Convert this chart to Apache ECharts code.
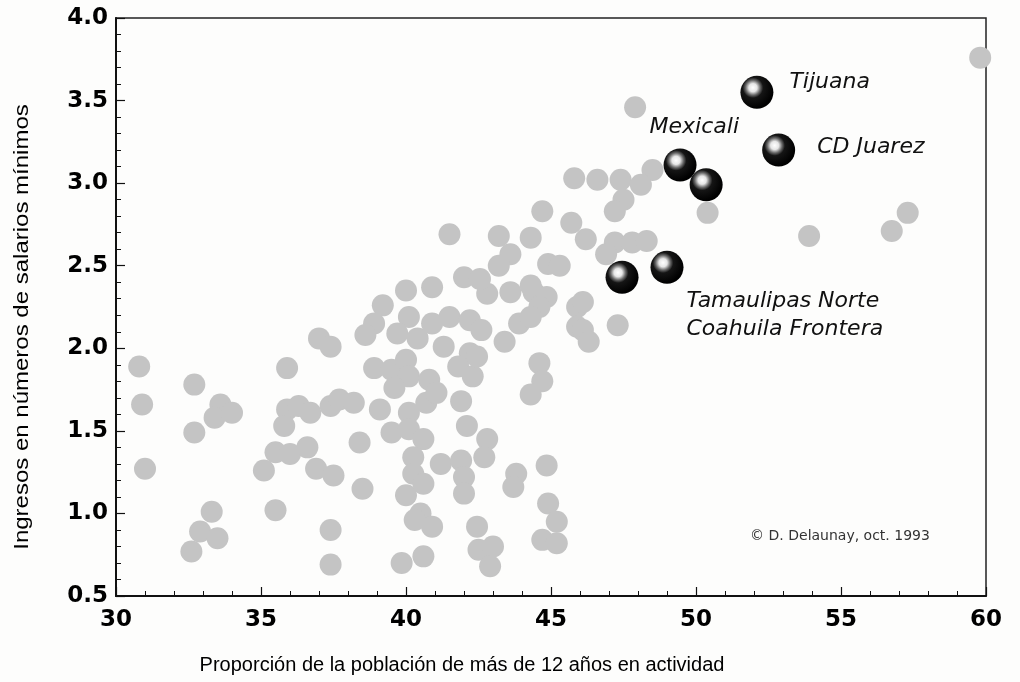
<!DOCTYPE html>
<html>
<head>
<meta charset="utf-8">
<script src="https://cdn.jsdelivr.net/npm/echarts@6/dist/echarts.min.js"></script>
<style>
html,body{margin:0;padding:0;background:#fdfdfc;}
#c{width:1020px;height:682px;}
</style>
</head>
<body>
<div id="c"></div>
<script>
// Grey points: proportion active population (x) vs income in minimum wages (y)
const propX = [
  30.8, 30.9, 31.0, 32.7, 32.7, 33.6, 33.4, 34.0, 33.3, 32.9, 33.5, 32.6,
  35.9, 37.0, 37.4, 35.9, 36.3, 36.7, 35.8, 37.4, 37.7, 35.5, 36.0, 36.6,
  35.1, 36.9, 37.5, 35.5, 37.4, 37.4,
  40.0, 40.9, 39.2, 38.9, 38.6, 40.1, 39.7, 40.4, 40.9, 41.5, 42.2, 42.6,
  41.3, 42.2, 41.8, 42.3, 42.8, 43.6, 44.4, 44.85, 44.6, 43.9, 43.4, 38.9,
  39.5, 40.0, 40.1, 39.6, 40.8, 38.2, 39.1, 40.1, 40.7, 41.05, 41.9, 44.6,
  44.7, 44.3, 39.5, 40.1, 40.6, 42.1, 42.8, 38.4, 40.25, 41.2, 41.9, 42.7,
  40.25, 42.0, 43.8, 43.7, 44.85, 38.5, 40.0, 40.6, 42.0, 40.5, 40.9, 40.3,
  42.45, 42.5, 43.0, 42.9, 39.85, 40.6, 44.9, 45.2, 44.7, 45.2,
  41.5, 43.2, 43.6, 43.2, 44.3, 44.9, 45.3, 44.7, 45.7, 42.0, 42.55, 44.3,
  44.3, 45.9, 45.9,
  48.5, 45.8, 46.6, 47.4, 48.1, 47.5, 47.2, 50.4, 46.2, 47.2, 47.8, 48.3,
  46.9, 46.1, 46.1, 46.3, 47.3, 42.45, 47.9, 59.8, 53.9, 57.3, 56.75
];
const incomeY = [
  1.89, 1.66, 1.27, 1.78, 1.49, 1.66, 1.58, 1.61, 1.01, 0.89, 0.85, 0.77,
  1.88, 2.06, 2.01, 1.63, 1.65, 1.61, 1.53, 1.65, 1.69, 1.37, 1.36, 1.40,
  1.26, 1.27, 1.23, 1.02, 0.90, 0.69,
  2.35, 2.37, 2.26, 2.15, 2.08, 2.19, 2.09, 2.06, 2.15, 2.19, 2.17, 2.11,
  2.01, 1.97, 1.89, 1.83, 2.33, 2.34, 2.34, 2.31, 2.25, 2.15, 2.04, 1.88,
  1.87, 1.93, 1.83, 1.76, 1.81, 1.67, 1.63, 1.61, 1.67, 1.73, 1.68, 1.91,
  1.80, 1.72, 1.49, 1.51, 1.45, 1.53, 1.45, 1.43, 1.34, 1.30, 1.32, 1.34,
  1.24, 1.22, 1.24, 1.16, 1.29, 1.15, 1.11, 1.18, 1.12, 1.00, 0.92, 0.96,
  0.92, 0.78, 0.80, 0.68, 0.70, 0.74, 1.06, 0.95, 0.84, 0.82,
  2.69, 2.68, 2.57, 2.50, 2.67, 2.51, 2.50, 2.83, 2.76, 2.43, 2.42, 2.38,
  2.19, 2.25, 2.13,
  3.08, 3.03, 3.02, 3.02, 2.99, 2.90, 2.83, 2.82, 2.66, 2.64, 2.64, 2.65,
  2.57, 2.28, 2.11, 2.04, 2.14, 1.95, 3.46, 3.76, 2.68, 2.82, 2.71
];
// Highlighted border regions
const hlNames = ['Tijuana', 'CD Juarez', 'Mexicali', '', 'Tamaulipas Norte', 'Coahuila Frontera'];
const hlX = [52.1, 52.85, 49.45, 50.35, 47.45, 49.0];
const hlY = [3.55, 3.20, 3.11, 2.99, 2.43, 2.49];
const yTicks = ['0.5','1.0','1.5','2.0','2.5','3.0','3.5','4.0'];
const xTicks = ['30','35','40','45','50','55','60'];
const xTitle = 'Proporción de la población de más de 12 años en actividad';
const yTitle = 'Ingresos en números de salarios mínimos';
const credit = '© D. Delaunay, oct. 1993';

const greyData = propX.map((x, i) => [x, incomeY[i]]);

const labelFont = {fontFamily: 'DejaVu Sans', fontStyle: 'italic', fontSize: 22, color: '#111'};
const labelPos = {
  'Tijuana': [49, 6],
  'CD Juarez': [55, 14],
  'Mexicali': [-14, -21]
};
const hlData = hlX.map((x, i) => {
  const name = hlNames[i];
  const item = {value: [x, hlY[i]], name: name};
  if (labelPos[name]) {
    item.label = Object.assign({show: true, formatter: name, position: labelPos[name], align: 'left', verticalAlign: 'middle'}, labelFont);
  }
  return item;
});
// combined two-line label for Tamaulipas Norte / Coahuila Frontera
hlData[5].label = Object.assign({
  show: true,
  formatter: hlNames[4] + '\n' + hlNames[5],
  position: [36, 64], align: 'left', verticalAlign: 'middle', lineHeight: 28
}, labelFont);

const sphere = {
  type: 'radial', x: 0.38, y: 0.36, r: 0.62,
  colorStops: [
    {offset: 0, color: '#ffffff'},
    {offset: 0.2, color: '#e6e6e6'},
    {offset: 0.36, color: '#6a6a6a'},
    {offset: 0.5, color: '#151515'},
    {offset: 1, color: '#000000'}
  ]
};

const chart = echarts.init(document.getElementById('c'), null, {renderer: 'canvas'});
chart.setOption({
  backgroundColor: '#fdfdfc',
  animation: false,
  grid: {left: 116, right: 34, top: 18, bottom: 86, show: true, borderColor: '#222', borderWidth: 1.5, backgroundColor: 'transparent'},
  xAxis: {
    type: 'value', min: 30, max: 60, interval: 5,
    axisLine: {show: true, lineStyle: {color: '#111', width: 2}},
    axisTick: {show: true, inside: true, length: 9, lineStyle: {color: '#111', width: 1.2}},
    minorTick: {show: true, splitNumber: 5, length: 5, lineStyle: {color: '#111', width: 1}},
    splitLine: {show: false},
    axisLabel: {
      margin: 13, fontFamily: 'DejaVu Sans', fontWeight: 'bold', fontSize: 23, color: '#000',
      formatter: v => xTicks[Math.round((v - 30) / 5)]
    }
  },
  yAxis: {
    type: 'value', min: 0.5, max: 4.0, interval: 0.5,
    axisLine: {show: true, lineStyle: {color: '#111', width: 2}},
    axisTick: {show: true, inside: true, length: 9, lineStyle: {color: '#111', width: 1.2}},
    minorTick: {show: true, splitNumber: 5, length: 5, lineStyle: {color: '#111', width: 1}},
    splitLine: {show: false},
    axisLabel: {
      margin: 8, fontFamily: 'DejaVu Sans', fontWeight: 'bold', fontSize: 23, color: '#000',
      formatter: v => yTicks[Math.round((v - 0.5) / 0.5)]
    }
  },
  series: [
    {
      type: 'scatter', name: 'otros', data: greyData, symbolSize: 22,
      itemStyle: {color: '#c4c4c4', opacity: 1}, z: 2
    },
    {
      type: 'scatter', name: 'frontera', data: hlData, symbolSize: 33,
      itemStyle: {color: sphere, opacity: 1}, z: 3
    }
  ],
  graphic: [
    {
      type: 'text', x: 840, y: 536,
      style: {text: credit, fontFamily: 'DejaVu Sans', fontSize: 14, fill: '#333', textAlign: 'center', textVerticalAlign: 'middle'}
    },
    {
      type: 'text', x: 462, y: 665,
      style: {text: xTitle, fontFamily: 'Liberation Sans', fontSize: 20, fill: '#000', textAlign: 'center', textVerticalAlign: 'middle'}
    },
    {
      type: 'text', x: 22, y: 327, rotation: Math.PI / 2, scaleX: 1.2,
      style: {text: yTitle, fontFamily: 'Liberation Sans', fontSize: 20, fill: '#000', textAlign: 'center', textVerticalAlign: 'middle'}
    }
  ]
});
</script>
</body>
</html>
